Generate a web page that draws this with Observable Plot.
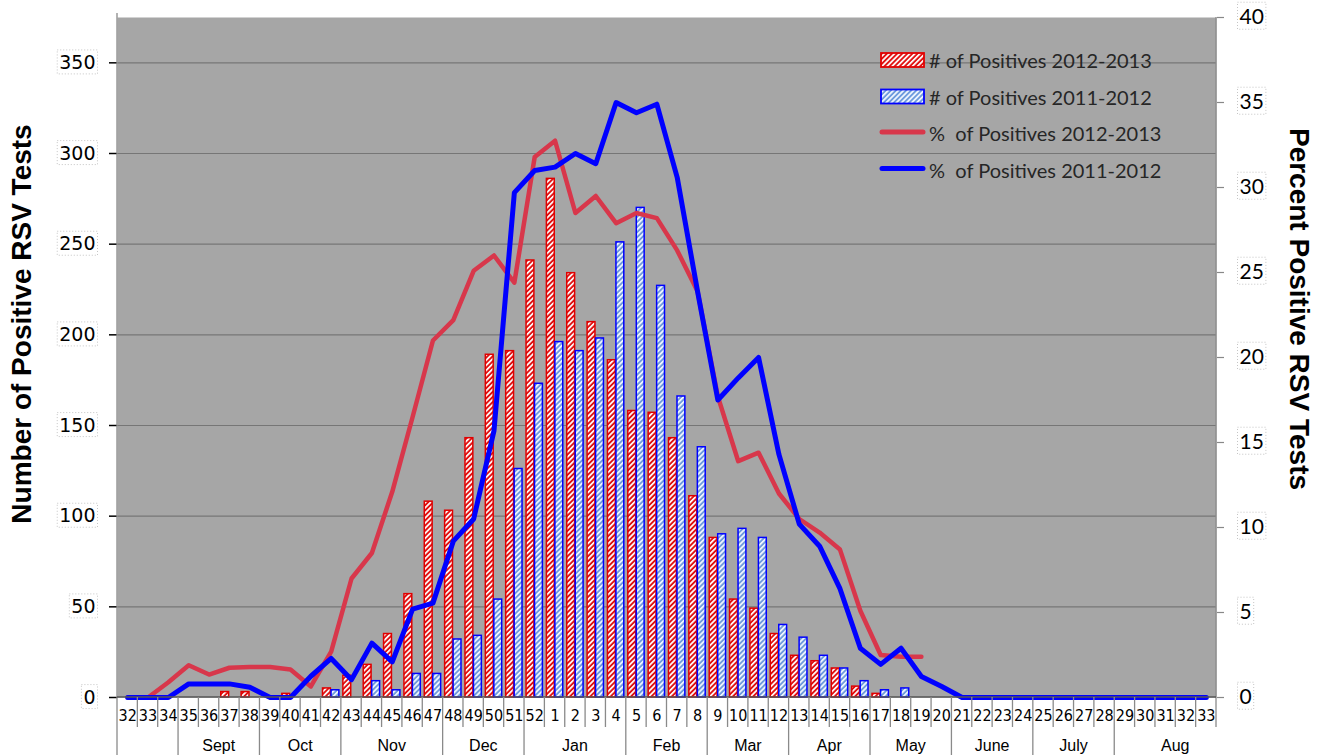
<!DOCTYPE html>
<html>
<head>
<meta charset="utf-8">
<script src="https://cdn.jsdelivr.net/npm/d3@7"></script>
<script src="https://cdn.jsdelivr.net/npm/@observablehq/plot@0.6"></script>
<style>
  html, body { margin: 0; padding: 0; background: #fff; }
  #chart svg { display: block; }
</style>
</head>
<body>
<div id="chart"></div>
<script>
// ---- Data ----
const weekLabels = [32,33,34,35,36,37,38,39,40,41,42,43,44,45,46,47,48,49,50,51,52,
                    1,2,3,4,5,6,7,8,9,10,11,12,13,14,15,16,17,18,19,20,21,22,23,24,25,26,27,28,29,30,31,32,33];

// # of positives 2012-2013 (bars, red)
const count1213 = [0,0,0,0,0,3,3,0,2,0,5,12,18,35,57,108,103,143,189,191,241,
                   286,234,207,186,158,157,143,111,88,54,49,35,23,20,16,6,2,0,0,
                   null,null,null,null,null,null,null,null,null,null,null,null,null,null];
// # of positives 2011-2012 (bars, blue)
const count1112 = [0,0,0,0,0,0,0,0,0,0,4,0,9,4,13,13,32,34,54,126,173,
                   196,191,198,251,270,227,166,138,90,93,88,40,33,23,16,9,4,5,0,
                   0,0,0,0,0,0,0,0,0,0,0,0,0,0];
// % of positives 2012-2013 (line, red)
const pct1213 = [0,0,0.9,1.9,1.35,1.75,1.8,1.8,1.65,0.65,2.7,7.0,8.5,12.1,16.5,21.0,22.2,25.1,26.0,24.4,31.8,
                 32.75,28.5,29.5,27.9,28.5,28.2,26.3,23.9,17.7,13.9,14.4,12.0,10.5,9.7,8.7,5.1,2.5,2.4,2.4,
                 null,null,null,null,null,null,null,null,null,null,null,null,null,null];
// % of positives 2011-2012 (line, blue)
const pct1112 = [0,0,0,0.8,0.8,0.8,0.6,0,0,1.25,2.3,1.05,3.2,2.1,5.2,5.55,9.2,10.5,15.7,29.7,31.0,
                 31.2,32.0,31.4,35.0,34.4,34.9,30.6,23.9,17.5,18.8,20.0,14.3,10.2,8.9,6.4,2.9,1.95,2.9,1.24,
                 0.65,0,0,0,0,0,0,0,0,0,0,0,0,0];

const monthLabels = ["Sept","Oct","Nov","Dec","Jan","Feb","Mar","Apr","May","June","July","Aug"];
const monthStart  = [3, 7, 11, 16, 20, 25, 29, 33, 37, 41, 45, 49];
const monthEnd    = [7, 11, 16, 20, 25, 29, 33, 37, 41, 45, 49, 55];

const countTicks = [0,50,100,150,200,250,300,350];
const pctTicks = [0,5,10,15,20,25,30,35,40];
const countMax = 375;
const pctMax = 40;

const legendItems = [
  {label: "# of Positives 2012-2013", kind: "bar", fill: "url(#hatchRed)", stroke: "#E00000"},
  {label: "# of Positives 2011-2012", kind: "bar", fill: "url(#hatchBlue)", stroke: "#0000FF"},
  {label: "%  of Positives 2012-2013", kind: "line", stroke: "#D8374B"},
  {label: "%  of Positives 2011-2012", kind: "line", stroke: "#0000FF"}
];

// ---- Build table ----
const k = countMax / pctMax;
const rows = weekLabels.map((w, i) => ({
  i, week: w,
  c1213: count1213[i], c1112: count1112[i],
  p1213: pct1213[i] == null ? NaN : pct1213[i] * k,
  p1112: pct1112[i] == null ? NaN : pct1112[i] * k
}));
const idx = d3.range(weekLabels.length);

const chart = Plot.plot({
  width: 1324,
  height: 755,
  marginTop: 17,
  marginBottom: 58,
  marginLeft: 117,
  marginRight: 108,
  style: {fontFamily: "'Liberation Sans', Arial, sans-serif", background: "#fff", color: "#000"},
  x: {type: "band", domain: idx, padding: 0, round: false, axis: null},
  y: {domain: [0, countMax], axis: null},
  marks: [
    Plot.frame({fill: "#A6A6A6", stroke: null}),
    Plot.gridY(countTicks.slice(1), {stroke: "#767676", strokeOpacity: 1, strokeWidth: 1.2}),
    Plot.barY(rows, {x: "i", y: "c1213", fill: "url(#hatchRed)", stroke: "#E00000", strokeWidth: 1.5, insetLeft: 2, insetRight: 10.5}),
    Plot.barY(rows, {x: "i", y: "c1112", fill: "url(#hatchBlue)", stroke: "#0000FF", strokeWidth: 1.5, insetLeft: 10.5, insetRight: 2}),
    Plot.line(rows, {x: "i", y: "p1213", stroke: "#D8374B", strokeWidth: 4.5, strokeLinejoin: "round", strokeLinecap: "round"}),
    Plot.line(rows, {x: "i", y: "p1112", stroke: "#0000FF", strokeWidth: 5, strokeLinejoin: "round"}),
    Plot.axisY(countTicks, {anchor: "left", tickSize: 8, tickPadding: 14, fontSize: 19,
      fontFamily: "'DejaVu Sans', Verdana, sans-serif", stroke: "#000", strokeWidth: 1.5, label: null}),
    Plot.axisY(pctTicks.map(v => v * k), {anchor: "right", tickSize: 7, tickPadding: 16, fontSize: 21,
      fontFamily: "Lato, 'Open Sans', sans-serif", stroke: "#888", strokeWidth: 1.2,
      tickFormat: d => String(Math.round(d / k)), label: null}),
    Plot.axisX(idx, {anchor: "bottom", tickSize: 0, tickPadding: 12, fontSize: 16,
      fontFamily: "'Liberation Sans Narrow', 'DejaVu Sans Condensed', 'Liberation Sans', sans-serif",
      tickFormat: i => String(weekLabels[i]), label: null})
  ]
});

document.getElementById("chart").appendChild(chart);

// ---- Decorations drawn with the chart's own scales ----
const svg = d3.select(chart);
const xs = chart.scale("x");
const ys = chart.scale("y");
const x0 = xs.apply(0);
const step = xs.step;
const bx = i => x0 + i * step;            // band boundary i
const yBase = ys.apply(0);
const yTop = ys.apply(countMax);
const xRight = bx(weekLabels.length);

// hatch patterns
const defs = svg.insert("defs", ":first-child");
const pr = defs.append("pattern").attr("id", "hatchRed").attr("patternUnits", "userSpaceOnUse")
  .attr("width", 3.6).attr("height", 3.6).attr("patternTransform", "rotate(45)");
pr.append("rect").attr("width", 3.6).attr("height", 3.6).attr("fill", "#E01010");
pr.append("rect").attr("width", 1.7).attr("height", 3.6).attr("fill", "#FFFFFF");
const pb = defs.append("pattern").attr("id", "hatchBlue").attr("patternUnits", "userSpaceOnUse")
  .attr("width", 3.6).attr("height", 3.6).attr("patternTransform", "rotate(45)");
pb.append("rect").attr("width", 3.6).attr("height", 3.6).attr("fill", "#6E9BDD");
pb.append("rect").attr("width", 1.7).attr("height", 3.6).attr("fill", "#F4F8FF");

const deco = svg.append("g").attr("stroke", "#8a8a8a").attr("stroke-width", 1.3);
// left edge (axis + table edge)
deco.append("line").attr("x1", x0).attr("x2", x0).attr("y1", yTop - 4).attr("y2", 755);
// right axis line
deco.append("line").attr("x1", xRight).attr("x2", xRight).attr("y1", yTop).attr("y2", yBase + 30);
// baseline
deco.append("line").attr("x1", x0).attr("x2", xRight).attr("y1", yBase).attr("y2", yBase).attr("stroke", "#555");
// week separators
const monthBounds = new Set(monthStart);
for (let i = 1; i < weekLabels.length; i++) {
  deco.append("line").attr("x1", bx(i)).attr("x2", bx(i))
    .attr("y1", yBase).attr("y2", monthBounds.has(i) ? 755 : yBase + 30);
}
// month labels
const mg = svg.append("g").attr("font-family", "'Liberation Sans', Arial, sans-serif")
  .attr("font-size", 16).attr("text-anchor", "middle").attr("fill", "#000");
monthLabels.forEach((m, j) => {
  mg.append("text").attr("x", (bx(monthStart[j]) + bx(monthEnd[j])) / 2).attr("y", 751).text(m);
});

// dotted boxes around left tick labels
svg.selectAll("g[aria-label='y-axis tick label'] text").each(function() {
  const b = this.getBBox();
  const t = this.getAttribute("transform");
  d3.select(this.parentNode).insert("rect", () => this)
    .attr("transform", t)
    .attr("x", b.x - 2).attr("y", b.y - 1).attr("width", b.width + 4).attr("height", b.height + 2)
    .attr("fill", "none").attr("stroke", "#c4c4c4").attr("stroke-dasharray", "1,2");
});

// axis titles
svg.append("text").attr("transform", `translate(21,${(yTop + yBase) / 2 - 33}) rotate(-90)`)
  .attr("text-anchor", "middle").attr("dominant-baseline", "central")
  .attr("font-family", "'Liberation Sans', Arial, sans-serif").attr("font-size", 28).attr("font-weight", "bold")
  .text("Number of Positive RSV Tests");
svg.append("text").attr("transform", `translate(1299,${(yTop + yBase) / 2 - 48}) rotate(90)`)
  .attr("text-anchor", "middle").attr("dominant-baseline", "central")
  .attr("font-family", "'Liberation Sans', Arial, sans-serif").attr("font-size", 28).attr("font-weight", "bold")
  .text("Percent Positive RSV Tests");

// legend
const lg = svg.append("g").attr("font-family", "Lato, 'Open Sans', sans-serif").attr("font-size", 20)
  .attr("fill", "#262626").attr("text-anchor", "start");
legendItems.forEach((it, j) => {
  const cy = 60 + j * 36.5;
  if (it.kind === "bar") {
    lg.append("rect").attr("x", 881).attr("y", cy - 7).attr("width", 43).attr("height", 14)
      .attr("fill", it.fill).attr("stroke", it.stroke).attr("stroke-width", 1.8);
  } else {
    lg.append("line").attr("x1", 882).attr("x2", 923).attr("y1", cy - 1).attr("y2", cy - 1)
      .attr("stroke", it.stroke).attr("stroke-width", 5).attr("stroke-linecap", "round");
  }
  lg.append("text").attr("x", 929).attr("y", cy).attr("dominant-baseline", "central").text(it.label);
});
</script>
</body>
</html>
